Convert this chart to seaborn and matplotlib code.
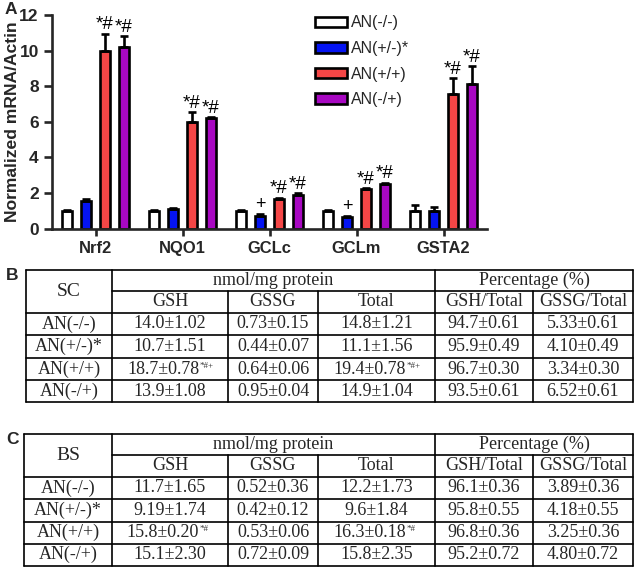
import numpy as np
import pandas as pd
import matplotlib
matplotlib.use("Agg")
import matplotlib.pyplot as plt
import matplotlib.patches as mpatches
from matplotlib.container import BarContainer
import seaborn as sns

# ---------------- data: panel A ----------------
genes = ["Nrf2", "NQO1", "GCLc", "GCLm", "GSTA2"]
groups = ["AN(-/-)", "AN(+/-)*", "AN(+/+)", "AN(-/+)"]
val_nn = [1.0, 1.0, 1.0, 1.0, 1.0]
err_nn = [0.05, 0.03, 0.05, 0.03, 0.32]
val_pn = [1.55, 1.12, 0.71, 0.68, 1.0]
err_pn = [0.12, 0.06, 0.13, 0.06, 0.2]
val_pp = [10.0, 5.98, 1.68, 2.21, 7.55]
err_pp = [0.95, 0.55, 0.06, 0.06, 0.92]
val_np = [10.2, 6.22, 1.87, 2.5, 8.13]
err_np = [0.62, 0.06, 0.12, 0.09, 1.0]
mark_nn = ["", "", "", "", ""]
mark_pn = ["", "", "+", "+", ""]
mark_pp = ["*#", "*#", "*#", "*#", "*#"]
mark_np = ["*#", "*#", "*#", "*#", "*#"]
colors = ["#FFFFFF", "#0514F2", "#F44646", "#A808C2"]
yticks = [0, 2, 4, 6, 8, 10, 12]

# ---------------- data: tables ----------------
tab_cols = ["GSH", "GSSG", "Total", "GSH/Total", "GSSG/Total"]
tab_rows = ["AN(-/-)", "AN(+/-)*", "AN(+/+)", "AN(-/+)"]
sc_gsh = ["14.0±1.02", "10.7±1.51", "18.7±0.78", "13.9±1.08"]
sc_gssg = ["0.73±0.15", "0.44±0.07", "0.64±0.06", "0.95±0.04"]
sc_total = ["14.8±1.21", "11.1±1.56", "19.4±0.78", "14.9±1.04"]
sc_gsh_pct = ["94.7±0.61", "95.9±0.49", "96.7±0.30", "93.5±0.61"]
sc_gssg_pct = ["5.33±0.61", "4.10±0.49", "3.34±0.30", "6.52±0.61"]
sc_sup_gsh = ["", "", "*#+", ""]
sc_sup_total = ["", "", "*#+", ""]
bs_gsh = ["11.7±1.65", "9.19±1.74", "15.8±0.20", "15.1±2.30"]
bs_gssg = ["0.52±0.36", "0.42±0.12", "0.53±0.06", "0.72±0.09"]
bs_total = ["12.2±1.73", "9.6±1.84", "16.3±0.18", "15.8±2.35"]
bs_gsh_pct = ["96.1±0.36", "95.8±0.55", "96.8±0.36", "95.2±0.72"]
bs_gssg_pct = ["3.89±0.36", "4.18±0.55", "3.25±0.36", "4.80±0.72"]
bs_sup_gsh = ["", "", "*#", ""]
bs_sup_total = ["", "", "*#", ""]

sns.set_style("ticks")
plt.rcParams["font.family"] = ["Liberation Sans", "DejaVu Sans"]

W, H = 640, 567
fig = plt.figure(figsize=(W / 100, H / 100), dpi=100)

# ---------------- panel A ----------------
ax = fig.add_axes([52 / W, 1 - 228.7 / H, 435 / W, 213.7 / H])
vals = [val_nn, val_pn, val_pp, val_np]
errs = [err_nn, err_pn, err_pp, err_np]
marks = [mark_nn, mark_pn, mark_pp, mark_np]
df = pd.DataFrame({
    "gene": np.tile(genes, 4),
    "group": np.repeat(groups, 5),
    "value": np.concatenate(vals),
})
sns.barplot(data=df, x="gene", y="value", hue="group", order=genes,
            hue_order=groups, palette=colors, width=0.86, gap=0.46,
            edgecolor="black", linewidth=1.9, errorbar=None, ax=ax,
            legend=False, saturation=1)

bar_conts = [c for c in ax.containers if isinstance(c, BarContainer)]
for ci, cont in enumerate(bar_conts):
    xs = [p.get_x() + p.get_width() / 2 for p in cont.patches]
    hs = [p.get_height() for p in cont.patches]
    e = errs[ci]
    ax.errorbar(xs, hs, yerr=[np.zeros(len(e)), e], fmt="none",
                ecolor="black", elinewidth=1.9, capsize=3.0, capthick=1.9,
                zorder=1)
    for x, h, ee, m in zip(xs, hs, e, marks[ci]):
        if m:
            ax.text(x, h + ee + 0.02, m, ha="center", va="bottom",
                    fontsize=13.5 if m != "+" else 13, color="black")

ax.set_xlim(-0.5, 4.5)
ax.set_ylim(0, 12)
ax.set_yticks(yticks)
ax.set_xlabel("")
ax.set_ylabel("Normalized mRNA/Actin", fontsize=12.6, fontweight="bold")
ax.yaxis.set_label_coords(-0.074, 0.5)
for s in ["top", "right"]:
    ax.spines[s].set_visible(False)
for s in ["left", "bottom"]:
    ax.spines[s].set_linewidth(1.9)
ax.tick_params(axis="y", width=1.9, length=6, labelsize=12.5)
ax.tick_params(axis="x", width=1.9, length=5, labelsize=11.9, pad=4)
for lbl in ax.get_xticklabels() + ax.get_yticklabels():
    lbl.set_fontweight("bold")

handles = [mpatches.Patch(facecolor=c, edgecolor="black", linewidth=1.9)
           for c in colors]
ax.legend(handles, groups, loc="upper left", frameon=False,
          bbox_to_anchor=(315 / W, 1 - 15.5 / H),
          bbox_transform=fig.transFigure, borderpad=0, borderaxespad=0,
          handlelength=2.0, handleheight=0.62, handletextpad=0.25,
          labelspacing=0.66, fontsize=11.5)

# ---------------- tables ----------------
ta = fig.add_axes([0, 0, 1, 1], zorder=-1)
ta.set_xlim(0, W)
ta.set_ylim(H, 0)
ta.axis("off")

fig.text(5 / W, 1 - 10 / H, "A", fontsize=12.5, fontweight="bold",
         va="center", ha="left")
fig.text(6 / W, 1 - 275 / H, "B", fontsize=12.5, fontweight="bold",
         va="center", ha="left")
fig.text(6 / W, 1 - 440 / H, "C", fontsize=12.5, fontweight="bold",
         va="center", ha="left")

SER = ["Liberation Serif", "DejaVu Serif"]
FS = 13
renderer = fig.canvas.get_renderer()
inv = ta.transData.inverted()


def draw_table(ys, xs, corner, columns, sups):
    lw = 1.2
    left, right = xs[0], xs[-1]
    ta.plot([left, right], [ys[0], ys[0]], color="black", lw=lw)
    ta.plot([xs[1], right], [ys[1], ys[1]], color="black", lw=lw)
    for y in ys[2:]:
        ta.plot([left, right], [y, y], color="black", lw=lw)
    for x in [xs[0], xs[1], xs[4], xs[6]]:
        ta.plot([x, x], [ys[0], ys[-1]], color="black", lw=lw)
    for x in [xs[2], xs[3], xs[5]]:
        ta.plot([x, x], [ys[1], ys[-1]], color="black", lw=lw)
    ta.text((xs[0] + xs[1]) / 2, (ys[0] + ys[2]) / 2, corner, ha="center",
            va="center", fontsize=14, family=SER)
    ta.text((xs[1] + xs[4]) / 2, (ys[0] + ys[1]) / 2, "nmol/mg protein",
            ha="center", va="center", fontsize=FS, family=SER)
    ta.text((xs[4] + xs[6]) / 2, (ys[0] + ys[1]) / 2, "Percentage (%)",
            ha="center", va="center", fontsize=FS, family=SER)
    for j, c in enumerate(tab_cols):
        ta.text((xs[j + 1] + xs[j + 2]) / 2, (ys[1] + ys[2]) / 2, c,
                ha="center", va="center", fontsize=FS, family=SER)
    for i, r in enumerate(tab_rows):
        yc = (ys[i + 2] + ys[i + 3]) / 2
        ta.text((xs[0] + xs[1]) / 2, yc, r, ha="center", va="center",
                fontsize=FS, family=SER)
        for j, col in enumerate(columns):
            cx = (xs[j + 1] + xs[j + 2]) / 2
            sup = sups[j][i] if sups[j] is not None else ""
            shift = 7 if sup else 0
            t = ta.text(cx - shift, yc, col[i], ha="center", va="center",
                        fontsize=FS, family=SER)
            if sup:
                bb = t.get_window_extent(renderer=renderer)
                x1, y1 = inv.transform((bb.x1, bb.y1))
                ta.text(x1 + 0.5, y1 + 1.0, sup, ha="left", va="top",
                        fontsize=6.5, family=SER, color="#333333")


draw_table([270, 291, 313, 335, 358, 380, 402],
           [26, 112, 228, 318, 435, 533, 633], "SC",
           [sc_gsh, sc_gssg, sc_total, sc_gsh_pct, sc_gssg_pct],
           [sc_sup_gsh, None, sc_sup_total, None, None])
draw_table([434, 454.5, 477, 499, 521.5, 544, 565.5],
           [24, 112, 228, 318, 435, 533, 633], "BS",
           [bs_gsh, bs_gssg, bs_total, bs_gsh_pct, bs_gssg_pct],
           [bs_sup_gsh, None, bs_sup_total, None, None])

fig.savefig("out.png", dpi=100)
